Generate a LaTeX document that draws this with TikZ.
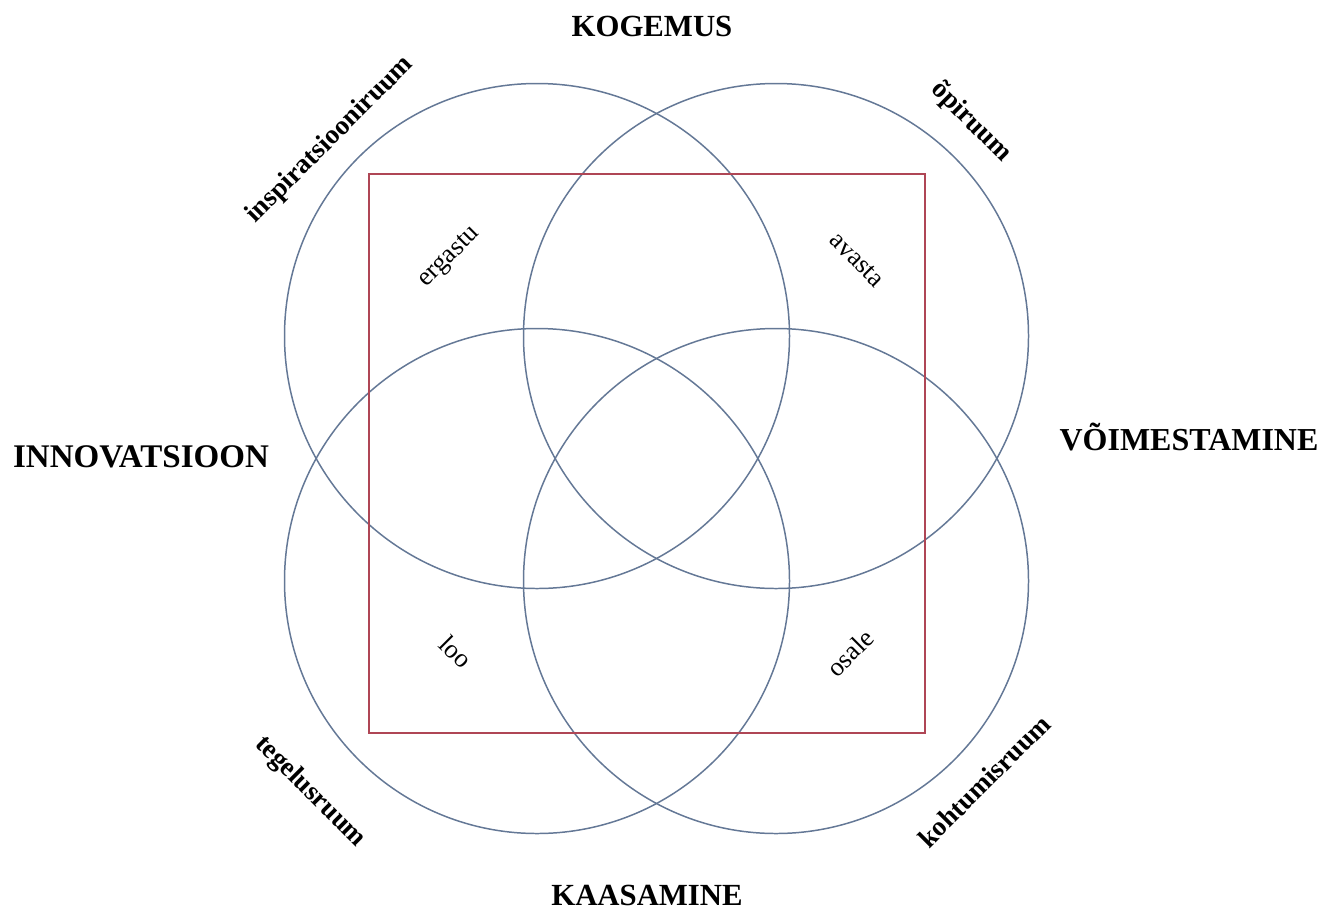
\documentclass[tikz,border=0pt]{standalone}
\usepackage{fontspec}
\setmainfont{Liberation Serif}
\definecolor{ringblue}{RGB}{100,120,150}
\definecolor{boxred}{RGB}{175,70,85}
\tikzset{
	pealkiri/.style={font=\fontsize{17.5}{20}\selectfont\bfseries, inner sep=0pt},
	ruum/.style={font=\fontsize{15.5}{18}\selectfont\bfseries, inner sep=0pt},
	tegevus/.style={font=\fontsize{15}{18}\selectfont, inner sep=0pt},
}
\begin{document}
\begin{tikzpicture}[x=0.02cm, y=-0.02cm]
	\useasboundingbox (0,0) rectangle (1325,910);

	% neli ringi
	\foreach \cx/\cy in {537/336, 776/336, 537/581, 776/581} {
		\draw[ringblue, line width=0.85pt] (\cx,\cy) circle[radius=252.5];
	}
	% keskmine ruut
	\draw[boxred, line width=0.8pt] (369,174) rectangle (925,733);

	% suunad
	\node[pealkiri] (kogemus) at (652,26) {KOGEMUS};
	\node[pealkiri, font=\fontsize{18.8}{21}\selectfont\bfseries] (innov) at (141,457) {INNOVATSIOON};
	\node[pealkiri, font=\fontsize{18.2}{21}\selectfont\bfseries] (voim)  at (1189,437) {VÕIMESTAMINE};
	\node[pealkiri] (kaasa)   at (647,895) {KAASAMINE};

	% ruumid
	\node[ruum, rotate=45]  (inspir)  at (330,140) {inspiratsiooniruum};
	\node[ruum, rotate=-45] (opi)     at (971,122) {õpiruum};
	\node[ruum, rotate=-45] (tegelus) at (310,792) {tegelusruum};
	\node[ruum, rotate=45]  (kohtu)   at (984,781) {kohtumisruum};

	% tegevused
	\node[tegevus, rotate=45]  (ergastu) at (450,258) {ergastu};
	\node[tegevus, rotate=-45] (avasta)  at (857,260) {avasta};
	\node[tegevus, rotate=-45] (loo)     at (456,652) {loo};
	\node[tegevus, rotate=45]  (osale)   at (850,653) {osale};
\end{tikzpicture}
\end{document}
